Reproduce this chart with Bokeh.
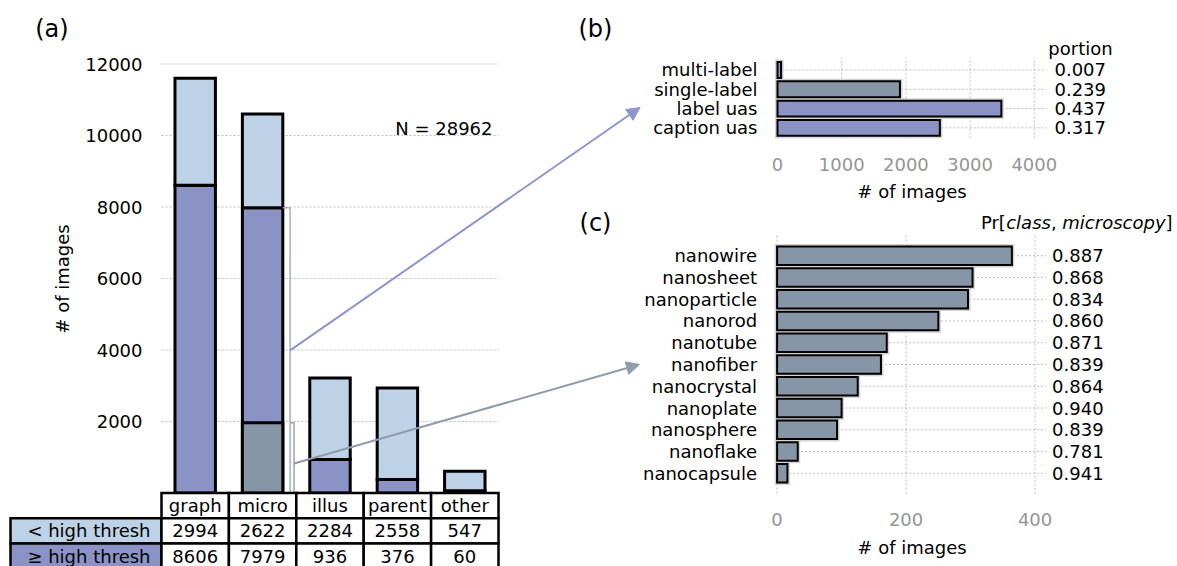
from bokeh.plotting import figure
from bokeh.models import Range1d, FixedTicker, LinearAxis, Arrow, NormalHead, Label
from bokeh.embed import file_html
from bokeh.resources import INLINE
from bokeh.core.properties import value

FONT = "DejaVu Sans"
FS = "18px"

# (a) image types, split by the high confidence threshold
types = ["graph", "micro", "illus", "parent", "other"]
below_thresh = [2994, 2622, 2284, 2558, 547]
above_thresh = [8606, 7979, 936, 376, 60]
y_ticks_a = [2000, 4000, 6000, 8000, 10000, 12000]
row_names = ["< high thresh", "\u2265 high thresh"]

# (b) high-confidence microscopy images by label source
label_kinds = ["multi-label", "single-label", "label uas", "caption uas"]
label_counts = [56, 1907, 3487, 2529]
label_portion = ["0.007", "0.239", "0.437", "0.317"]
x_ticks_b = [0, 1000, 2000, 3000, 4000]

# (c) nanomaterial classes among microscopy images
nano_classes = ["nanowire", "nanosheet", "nanoparticle", "nanorod", "nanotube",
                "nanofiber", "nanocrystal", "nanoplate", "nanosphere", "nanoflake",
                "nanocapsule"]
nano_counts = [364, 303, 296, 250, 170, 161, 125, 100, 93, 32, 16]
nano_prob = ["0.887", "0.868", "0.834", "0.860", "0.871", "0.839", "0.864",
             "0.940", "0.839", "0.781", "0.941"]
x_ticks_c = [0, 200, 400]

LIGHT = "#bed2e7"
PURPLE = "#8b93c6"
SLATE = "#8796a7"
GRID = "#bdbdbd"
BLUE_ARROW = "#8d96cc"
GREY_ARROW = "#8e9cab"

W, H = 1177, 566


def x_range_for(x_px0, px_per_unit, x_at_px0):
    """Horizontal data range covering the whole canvas."""
    return Range1d(x_at_px0 - x_px0 / px_per_unit, x_at_px0 + (W - x_px0) / px_per_unit)


def y_range_for(y_px0, px_per_unit, y_at_px0):
    """Vertical data range covering the whole canvas (pixels grow downward)."""
    return Range1d(y_at_px0 - (H - y_px0) / px_per_unit, y_at_px0 + y_px0 / px_per_unit)


# panel (a): categories 67.4 px apart, counts at 0.03575 px per image
COL = 67.4
A_PPU = 0.03575
p = figure(width=W, height=H,
           x_range=x_range_for(161, COL, -0.5), y_range=y_range_for(492.5, A_PPU, 0),
           x_axis_location=None, y_axis_location=None,
           toolbar_location=None, output_backend="svg", min_border=0)
p.outline_line_color = None
p.background_fill_color = "white"
p.border_fill_color = "white"
p.grid.visible = False

p.extra_y_ranges = {
    "table": y_range_for(492.5, 25.3, 0),
    "b": y_range_for(127.3, 19.27, 0),
    "c": y_range_for(472.8, 21.76, 0),
}
p.extra_x_ranges = {
    "b": x_range_for(777, 0.0642, 0),
    "c": x_range_for(776.6, 0.645, 0),
}


def style_axis(ax, standoff, color="black"):
    ax.major_label_text_font = FONT
    ax.major_label_text_font_size = FS
    ax.major_label_text_color = color
    ax.major_label_standoff = standoff
    ax.major_tick_line_color = None
    ax.minor_tick_line_color = None
    ax.major_tick_out = 0
    ax.major_tick_in = 0
    ax.minor_tick_out = 0
    ax.minor_tick_in = 0
    ax.axis_line_color = None
    ax.axis_label_text_font = FONT
    ax.axis_label_text_font_size = FS
    ax.axis_label_text_font_style = "normal"
    ax.axis_label_text_color = "black"


# ---------------- panel (a): stacked bars ----------------
BAR_W = 0.6
xs = list(range(len(types)))
p.segment(x0=-0.5, x1=len(types) - 0.5, y0=y_ticks_a, y1=y_ticks_a,
          line_color=GRID, line_width=1, line_dash="2 2")

totals = [a + b for a, b in zip(above_thresh, below_thresh)]
bar_kw = dict(width=BAR_W, line_color="black", line_width=3, line_join="miter")
p.vbar(x=xs, bottom=0, top=above_thresh, fill_color=PURPLE, **bar_kw)
p.vbar(x=xs, bottom=above_thresh, top=totals, fill_color=LIGHT, **bar_kw)

# labelled part of the microscopy bar (multi-label + single-label)
micro = types.index("micro")
labelled = label_counts[0] + label_counts[1]
p.vbar(x=[micro], bottom=0, top=[labelled], fill_color=SLATE, **bar_kw)

# brackets beside the microscopy bar
bar_edge = micro + BAR_W / 2
bx_blue = bar_edge + 0.108
bx_grey = bar_edge + 0.167
micro_total = sum(label_counts)
p.line(x=[bar_edge, bx_blue, bx_blue], y=[micro_total, micro_total, 0],
       line_color="#a3aad8", line_width=1.5)
p.line(x=[bx_blue + 0.01, bx_grey, bx_grey], y=[labelled, labelled, 0],
       line_color="#97a3b0", line_width=1.5)

# connectors to panels (b) and (c)
p.add_layout(Arrow(end=NormalHead(size=13, fill_color=BLUE_ARROW, line_color=BLUE_ARROW),
                   x_start=bx_blue, y_start=micro_total * 0.5,
                   x_end=6.6, y_end=10783, line_color=BLUE_ARROW, line_width=2))
p.add_layout(Arrow(end=NormalHead(size=13, fill_color=GREY_ARROW, line_color=GREY_ARROW),
                   x_start=bx_grey, y_start=labelled * 0.42,
                   x_end=6.592, y_end=3594, line_color=GREY_ARROW, line_width=2))

ya = LinearAxis(ticker=FixedTicker(ticks=y_ticks_a), fixed_location=-0.5,
                bounds=(0, 12000), axis_label="# of images")
style_axis(ya, 19)
ya.axis_label_standoff = 9
p.add_layout(ya, "left")

N = sum(totals)
p.add_layout(Label(x=4.411, y=10196, text=f"N = {N}", text_align="right",
                   text_baseline="middle", text_font=FONT, text_font_size=FS,
                   text_color="black"))
for txt, x, y in [("(a)", -2.125, 12993), ("(b)", 5.939, 12993), ("(c)", 5.939, 7566)]:
    p.add_layout(Label(x=x, y=y, text=txt, text_align="center", text_baseline="middle",
                       text_font=FONT, text_font_size="24px", text_color="black"))

# ---------------- table under panel (a) ----------------
label_left = -0.5 - 151 / COL
cell_kw = dict(line_color="black", line_width=2.5, line_join="miter", y_range_name="table")
txt_kw = dict(text_baseline="middle", text_font=value(FONT), text_font_size=value(FS),
              text_color="black", y_range_name="table")
p.quad(left=[x - 0.5 for x in xs], right=[x + 0.5 for x in xs], top=0, bottom=-1,
       fill_color="white", **cell_kw)
for r, (fill, vals) in enumerate([(LIGHT, below_thresh), (PURPLE, above_thresh)]):
    top, bottom = -1 - r, -2 - r
    p.quad(left=[label_left], right=[-0.5], top=top, bottom=bottom, fill_color=fill, **cell_kw)
    p.quad(left=[x - 0.5 for x in xs], right=[x + 0.5 for x in xs], top=top, bottom=bottom,
           fill_color="white", **cell_kw)
    p.text(x=xs, y=[(top + bottom) / 2] * len(xs), text=[str(v) for v in vals],
           text_align="center", **txt_kw)
    p.text(x=[-0.5 - 11 / COL], y=[(top + bottom) / 2], text=[row_names[r]],
           text_align="right", **txt_kw)
p.text(x=xs, y=[-0.5] * len(xs), text=types, text_align="center", **txt_kw)


# ---------------- horizontal bar panels (b) and (c) ----------------
def hbar_panel(name, rows, names, counts, colors, right_labels, x_ticks,
               x_hi, y_lo, y_hi, bar_h, right_standoff, tick_standoff, title_standoff):
    rn = dict(x_range_name=name, y_range_name=name)
    grid_kw = dict(line_color=GRID, line_width=1, line_dash="2 2", **rn)
    p.segment(x0=0, x1=x_hi, y0=rows, y1=rows, **grid_kw)
    p.segment(x0=x_ticks, x1=x_ticks, y0=y_lo, y1=y_hi, **grid_kw)
    p.hbar(y=rows, left=0, right=counts, height=bar_h, fill_color=None,
           line_color="#d4d4d4", line_width=5, line_join="miter", **rn)
    p.hbar(y=rows, left=0, right=counts, height=bar_h, fill_color=colors,
           line_color="black", line_width=2, line_join="miter", **rn)

    left = LinearAxis(ticker=FixedTicker(ticks=rows), fixed_location=0,
                      major_label_overrides={r: n for r, n in zip(rows, names)}, **rn)
    style_axis(left, 20)
    p.add_layout(left, "left")

    right = LinearAxis(ticker=FixedTicker(ticks=rows), fixed_location=x_hi,
                       major_label_overrides={r: t for r, t in zip(rows, right_labels)}, **rn)
    style_axis(right, right_standoff)
    p.add_layout(right, "right")

    bottom = LinearAxis(ticker=FixedTicker(ticks=x_ticks), fixed_location=y_lo,
                        bounds=(0, x_hi), axis_label="# of images", **rn)
    style_axis(bottom, tick_standoff, color="#959595")
    bottom.axis_label_standoff = title_standoff
    p.add_layout(bottom, "below")


rows_b = list(range(len(label_kinds)))[::-1]
colors_b = [PURPLE, SLATE, PURPLE, PURPLE]
hbar_panel("b", rows_b, label_kinds, label_counts, colors_b, label_portion, x_ticks_b,
           4190, -0.555, 3.648, 0.82, 8, 20, 6)
p.add_layout(Label(x=4720, y=4.115, text="portion", text_align="center",
                   text_baseline="middle", text_font=FONT, text_font_size=FS,
                   text_color="black", x_range_name="b", y_range_name="b"))

rows_c = list(range(len(nano_classes)))[::-1]
hbar_panel("c", rows_c, nano_classes, nano_counts, [SLATE] * len(nano_classes), nano_prob,
           x_ticks_c, 417, -0.93, 10.93, 0.85, 6, 19, 8)

# column heading: Pr[class, microscopy] with italic variables
pieces = [("Pr[", "normal", 0), ("class", "italic", 25.3), (",", "normal", 70.0),
          ("microscopy", "italic", 81.4), ("]", "normal", 184.6)]
for txt, style, dx in pieces:
    p.add_layout(Label(x=316, y=11.526, x_offset=dx, text=txt, text_align="left",
                       text_baseline="middle", text_font=FONT, text_font_size=FS,
                       text_font_style=style, text_color="black",
                       x_range_name="c", y_range_name="c"))

open("out.html", "w").write(file_html(p, INLINE))
